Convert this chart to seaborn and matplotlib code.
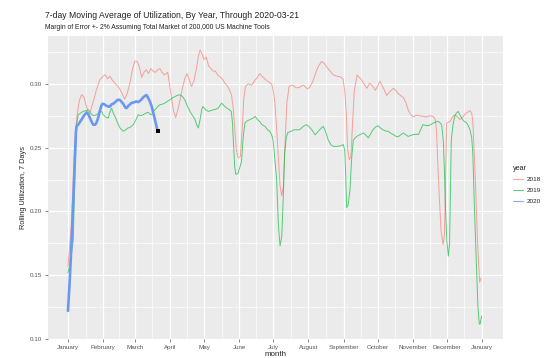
import numpy as np
import pandas as pd
import matplotlib
matplotlib.use("Agg")
import matplotlib.pyplot as plt
import seaborn as sns
from matplotlib.lines import Line2D

# Step 1: data (day of year, 7-day rolling utilization)
days_2018 = [0, 3, 6, 8, 10, 12, 14, 16, 18.5, 20, 22, 25, 28, 31, 33, 35, 37, 39, 42, 45, 48, 50,
             52, 54.5, 57, 59, 61, 63, 65, 67, 69, 71, 73, 75, 77, 79, 81, 83, 85, 88, 89.5, 91.5,
             93, 95, 97, 99, 101, 103, 105, 107, 109, 111, 113.5, 115, 116.5, 118, 120, 122, 124,
             126, 128, 130, 132, 134, 136, 138, 140, 142, 144, 145.5, 147, 148.5, 150, 152, 153.5,
             155, 156.5, 159, 162, 165, 167, 169, 171, 173.5, 176, 179.5, 181, 182.5, 184, 185.5,
             187, 188.5, 190, 191.5, 193, 195, 198, 201, 204, 207, 209, 211, 213, 216, 219, 221,
             223.5, 226, 228, 231, 234, 237, 240, 242.5, 244, 245.5, 246.5, 248, 249.5, 251, 252.5,
             255, 257, 259, 261, 263.5, 266, 268, 271, 273, 275, 278, 281, 284, 287, 289, 291, 293,
             296, 298, 300, 302, 304.5, 307, 310, 313, 316, 319, 322, 324, 325, 326, 327.5, 329,
             330.7, 332, 333, 334, 337, 339, 341, 343.5, 345.7, 348, 350, 352, 354.5, 356, 357,
             358, 359, 360, 361, 362, 363, 364.5]
util_2018 = [0.157, 0.19, 0.255, 0.275, 0.287, 0.2915, 0.290, 0.283, 0.276, 0.279, 0.285, 0.295,
             0.303, 0.306, 0.307, 0.304, 0.306, 0.303, 0.300, 0.297, 0.292, 0.288, 0.292, 0.300,
             0.312, 0.318, 0.3175, 0.313, 0.305, 0.309, 0.311, 0.308, 0.312, 0.310, 0.309, 0.311,
             0.312, 0.309, 0.307, 0.309, 0.300, 0.288, 0.279, 0.2735, 0.280, 0.288, 0.297, 0.304,
             0.308, 0.303, 0.298, 0.302, 0.313, 0.322, 0.3265, 0.324, 0.319, 0.321, 0.314, 0.312,
             0.310, 0.310, 0.307, 0.3055, 0.304, 0.301, 0.299, 0.296, 0.292, 0.283, 0.265, 0.248,
             0.242, 0.243, 0.262, 0.288, 0.298, 0.300, 0.299, 0.303, 0.305, 0.308, 0.306, 0.304,
             0.302, 0.300, 0.295, 0.285, 0.265, 0.243, 0.220, 0.212, 0.220, 0.255, 0.285, 0.298,
             0.299, 0.297, 0.297, 0.299, 0.298, 0.296, 0.297, 0.302, 0.310, 0.314, 0.3175, 0.316,
             0.3135, 0.310, 0.307, 0.306, 0.3055, 0.304, 0.295, 0.275, 0.250, 0.2405, 0.243,
             0.270, 0.295, 0.307, 0.305, 0.303, 0.300, 0.2965, 0.3005, 0.299, 0.295, 0.298, 0.302,
             0.297, 0.291, 0.294, 0.2965, 0.295, 0.2925, 0.291, 0.289, 0.285, 0.2795, 0.276, 0.274,
             0.2755, 0.275, 0.2745, 0.274, 0.275, 0.2745, 0.272, 0.262, 0.240, 0.210, 0.185, 0.174,
             0.182, 0.230, 0.2695, 0.2705, 0.274, 0.2758, 0.274, 0.272, 0.274, 0.276, 0.2775,
             0.279, 0.277, 0.270, 0.250, 0.230, 0.205, 0.180, 0.160, 0.1445, 0.148]

days_2019 = [0, 2, 4.7, 6, 7.6, 9, 11, 13.5, 16, 18, 20, 21, 23, 25, 27, 29.7, 31, 32.6, 34, 35.5,
             37, 38.5, 40, 41.4, 43.5, 45.9, 47.5, 48.8, 51, 53, 55, 57.6, 60, 62, 64, 66.4, 68.5,
             70.8, 72.5, 73.8, 75, 76.7, 79, 81, 83, 85.5, 88, 90, 92, 94.4, 96.5, 98.8, 101, 103,
             105, 107.6, 110, 112, 113.5, 115, 116.5, 118, 119, 121, 123.7, 126, 128, 130, 132.5,
             134, 135.5, 137.5, 140, 142, 144, 145, 145.8, 147, 148, 150, 152, 153, 154.6, 156,
             158, 160.5, 163, 165, 167, 169, 171, 173.7, 176, 178, 180, 181, 182.5, 184, 185.5,
             187, 188.5, 190, 191, 192.5, 194, 197, 199, 201.6, 204, 206, 208, 210.5, 213, 215,
             218, 220.7, 223, 225, 227, 229.5, 232, 234, 236, 238, 240.5, 242.8, 244, 245, 245.7,
             247, 248.7, 250, 251.6, 254.6, 257, 260.4, 262.5, 264.8, 267, 269, 271, 273.6, 276,
             278, 280, 282.5, 285, 287, 289, 291, 293.5, 295.7, 298, 300, 302, 304.5, 307, 309,
             311, 313, 315, 317.7, 320, 322, 324, 326.5, 328, 329.5, 331, 332, 333, 334, 335.4,
             336.5, 337.3, 338, 339.5, 341, 342.5, 344, 345.5, 347, 349, 351.6, 353, 354.5, 356,
             357, 357.5, 358.5, 359.5, 360.5, 361.5, 362.7, 363.5, 364.7]
util_2019 = [0.152, 0.160, 0.178, 0.225, 0.268, 0.2758, 0.277, 0.2785, 0.279, 0.2797, 0.277,
             0.2758, 0.275, 0.2758, 0.277, 0.2784, 0.276, 0.2745, 0.2735, 0.2732, 0.278, 0.281,
             0.277, 0.2745, 0.270, 0.2654, 0.264, 0.2628, 0.264, 0.2654, 0.266, 0.268, 0.272,
             0.2758, 0.275, 0.2758, 0.277, 0.2776, 0.276, 0.2758, 0.278, 0.2797, 0.282, 0.2836,
             0.284, 0.285, 0.2865, 0.2875, 0.289, 0.290, 0.291, 0.2914, 0.290, 0.2875, 0.283,
             0.2784, 0.275, 0.272, 0.268, 0.2654, 0.272, 0.280, 0.2823, 0.280, 0.2784, 0.279,
             0.2797, 0.280, 0.281, 0.283, 0.2849, 0.283, 0.281, 0.280, 0.2784, 0.270, 0.256, 0.235,
             0.229, 0.230, 0.236, 0.239, 0.259, 0.2693, 0.271, 0.272, 0.273, 0.2745, 0.272, 0.2706,
             0.268, 0.2667, 0.264, 0.2628, 0.259, 0.255, 0.240, 0.225, 0.190, 0.173, 0.180, 0.215,
             0.245, 0.258, 0.262, 0.2628, 0.264, 0.264, 0.264, 0.2654, 0.267, 0.268, 0.266, 0.264,
             0.260, 0.2628, 0.265, 0.2667, 0.263, 0.256, 0.252, 0.251, 0.251, 0.251, 0.2515,
             0.2523, 0.2484, 0.225, 0.203, 0.205, 0.217, 0.240, 0.256, 0.2588, 0.260, 0.2615,
             0.260, 0.2576, 0.261, 0.264, 0.266, 0.2672, 0.265, 0.264, 0.263, 0.2628, 0.261,
             0.2602, 0.259, 0.2584, 0.260, 0.2615, 0.260, 0.2588, 0.2595, 0.2602, 0.2605, 0.2602,
             0.264, 0.268, 0.2675, 0.2672, 0.268, 0.2693, 0.270, 0.2706, 0.2695, 0.268, 0.255,
             0.230, 0.200, 0.178, 0.165, 0.175, 0.220, 0.256, 0.268, 0.2745, 0.277, 0.2784, 0.276,
             0.2732, 0.271, 0.2693, 0.267, 0.264, 0.258, 0.245, 0.230, 0.200, 0.175, 0.152, 0.125,
             0.1117, 0.112, 0.118]

days_2020 = [0, 1.5, 3.3, 5, 7, 7.6, 9, 10.5, 12, 14, 16.5, 18, 19.4, 21, 22.3, 24, 25, 26.5, 28,
             29.5, 30.6, 32, 34, 36, 37, 38.5, 40, 42, 44, 45.5, 47, 49, 50.5, 51.7, 53.5, 56, 58,
             60.5, 62, 63.5, 65, 66.5, 68, 69.3, 70.8, 72.3, 73.8, 75.3, 76.7, 78, 79]
util_2020 = [0.122, 0.145, 0.178, 0.215, 0.262, 0.2667, 0.268, 0.270, 0.272, 0.275, 0.2776, 0.276,
             0.2732, 0.270, 0.268, 0.268, 0.2693, 0.273, 0.2784, 0.283, 0.2844, 0.284, 0.2828,
             0.282, 0.2823, 0.284, 0.2844, 0.286, 0.2875, 0.2875, 0.2862, 0.284, 0.2815, 0.281,
             0.283, 0.285, 0.2855, 0.2862, 0.2857, 0.2867, 0.288, 0.2895, 0.2906, 0.2912, 0.2888,
             0.286, 0.2823, 0.277, 0.272, 0.267, 0.2628]

years = ["2018", "2019", "2020"]
colors = ["#F8766D", "#00BA38", "#6A98F0"]
month_names = ["January", "February", "March", "April", "May", "June", "July", "August",
               "September", "October", "November", "December", "January"]
month_starts = [0, 31, 59, 90, 120, 151, 181, 212, 243, 273, 304, 334, 365]

df = pd.concat([
    pd.DataFrame({"day": days_2018, "util": util_2018, "year": "2018"}),
    pd.DataFrame({"day": days_2019, "util": util_2019, "year": "2019"}),
    pd.DataFrame({"day": days_2020, "util": util_2020, "year": "2020"}),
], ignore_index=True)

# Step 2: ggplot-like look
sns.set_style("darkgrid", {"axes.facecolor": "#EBEBEB", "grid.color": "white"})
plt.rcParams["font.family"] = ["Liberation Sans", "DejaVu Sans"]

fig = plt.figure(figsize=(5.5, 3.58), dpi=100)
ax = fig.add_axes([48 / 550, 1 - 339 / 358, 455 / 550, 303 / 358])

palette = dict(zip(years, colors))
old = df[df["year"] != "2020"]
sns.lineplot(data=old, x="day", y="util", hue="year", palette=palette, estimator=None,
             sort=False, linewidth=0.7, alpha=0.65, legend=False, ax=ax)
new = df[df["year"] == "2020"]
sns.lineplot(data=new, x="day", y="util", color=palette["2020"], estimator=None,
             sort=False, linewidth=1.9, legend=False, ax=ax)
sns.scatterplot(x=[days_2020[-1]], y=[util_2020[-1]], color="black", marker="s", s=8,
                edgecolor="black", linewidth=0, ax=ax, zorder=5)

# Step 3: axes, grid and labels
ax.set_xlim(-17.6, 383.6)
ax.set_ylim(0.10, 0.3375)
ax.set_xticks(month_starts)
ax.set_xticklabels(month_names)
ax.set_xticks([(a + b) / 2 for a, b in zip(month_starts[:-1], month_starts[1:])], minor=True)
ax.set_yticks([0.10, 0.15, 0.20, 0.25, 0.30])
ax.set_yticklabels(["0.10", "0.15", "0.20", "0.25", "0.30"])
ax.set_yticks([0.125, 0.175, 0.225, 0.275, 0.325], minor=True)
ax.grid(which="major", color="white", linewidth=0.9)
ax.grid(which="minor", color="white", linewidth=0.45)
ax.tick_params(axis="both", which="major", labelsize=4.5, colors="#555555", length=2,
               width=0.5, pad=2, bottom=True, left=True)
ax.tick_params(axis="both", which="minor", length=0)
for s in ax.spines.values():
    s.set_visible(False)
ax.set_xlabel("month", fontsize=5.8, labelpad=1)
ax.set_ylabel("Rolling Utilization, 7 Days", fontsize=5.3, labelpad=2)

fig.text(45 / 550, 1 - 16 / 358, "7-day Moving Average of Utilization, By Year, Through 2020-03-21",
         fontsize=6.2, va="center", ha="left", color="#222222")
fig.text(45 / 550, 1 - 27.5 / 358,
         "Margin of Error +- 2% Assuming Total Market of 200,000 US Machine Tools",
         fontsize=4.9, va="center", ha="left", color="#222222")

key_alpha = [0.65, 0.65, 0.8]
handles = [Line2D([0], [0], color=c, linewidth=0.8, alpha=a) for c, a in zip(colors, key_alpha)]
leg = fig.legend(handles, years, title="year", loc="upper left",
                 bbox_to_anchor=(510 / 550, 1 - 162 / 358), frameon=False, fontsize=4.6,
                 title_fontsize=5.2, handlelength=1.6, handletextpad=0.6, labelspacing=0.85,
                 borderaxespad=0)
leg._legend_box.align = "left"

fig.savefig("out.png", dpi=100)
